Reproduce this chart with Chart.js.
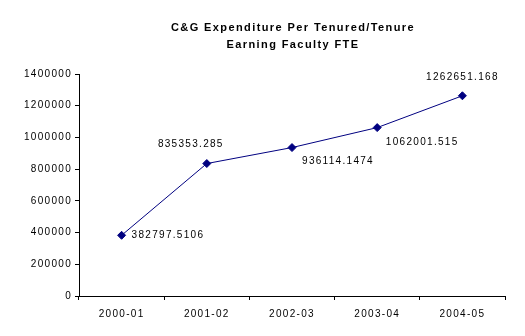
<!DOCTYPE html>
<html>
<head>
<meta charset="utf-8">
<script src="https://cdn.jsdelivr.net/npm/chart.js@4.4.1/dist/chart.umd.min.js"></script>
<style>
  html, body { margin: 0; padding: 0; background: #fff; }
  #wrap { width: 525px; height: 336px; position: relative; }
</style>
</head>
<body>
<div id="wrap"><canvas id="c" width="525" height="336"></canvas></div>
<script>
// Fiscal years and the C&G spend per tenured/tenure-earning FTE
const years = ['2000-01', '2001-02', '2002-03', '2003-04', '2004-05'];
const expenditure = [382797.5106, 835353.285, 936114.1474, 1062001.515, 1262651.168];
const valueLabels = ['382797.5106', '835353.285', '936114.1474', '1062001.515', '1262651.168'];
const titleLines = ['C&G Expenditure Per Tenured/Tenure', 'Earning Faculty FTE'];

const FONT = '"Liberation Sans", Arial, sans-serif';
const NAVY = '#000080';
const SPACING = '1.3px';

// Where each value label sits relative to its marker
const labelPlacement = [
  { dx: 10, dy: 0, align: 'left' },
  { dx: -16, dy: -19, align: 'center' },
  { dx: 46, dy: 14, align: 'center' },
  { dx: 45, dy: 15, align: 'center' },
  { dx: 0, dy: -19, align: 'center' }
];

// Wide, loosely tracked text throughout
const spacingPlugin = {
  id: 'letterSpacing',
  beforeLayout(chart) { chart.ctx.letterSpacing = SPACING; },
  beforeDraw(chart) { chart.ctx.letterSpacing = SPACING; }
};

const titlePlugin = {
  id: 'twoLineTitle',
  afterDraw(chart) {
    const ctx = chart.ctx;
    const ca = chart.chartArea;
    const cx = (ca.left + ca.right) / 2 + 1;
    ctx.save();
    ctx.letterSpacing = '1.4px';
    ctx.fillStyle = '#000';
    ctx.font = 'bold 11px ' + FONT;
    ctx.textAlign = 'center';
    ctx.textBaseline = 'middle';
    ctx.fillText(titleLines[0], cx, 28);
    ctx.fillText(titleLines[1], cx, 45);
    ctx.restore();
  }
};

const valueLabelPlugin = {
  id: 'valueLabels',
  afterDatasetsDraw(chart) {
    const ctx = chart.ctx;
    const meta = chart.getDatasetMeta(0);
    ctx.save();
    ctx.letterSpacing = SPACING;
    ctx.fillStyle = '#000';
    ctx.font = '10px ' + FONT;
    ctx.textBaseline = 'middle';
    meta.data.forEach((pt, i) => {
      const p = labelPlacement[i];
      ctx.textAlign = p.align;
      ctx.fillText(valueLabels[i], pt.x + p.dx, pt.y + p.dy);
    });
    ctx.restore();
  }
};

new Chart(document.getElementById('c'), {
  type: 'line',
  data: {
    labels: years,
    datasets: [{
      data: expenditure,
      borderColor: NAVY,
      borderWidth: 1,
      backgroundColor: NAVY,
      pointStyle: 'rectRot',
      pointRadius: 4,
      pointBorderWidth: 1,
      pointBorderColor: NAVY,
      pointBackgroundColor: NAVY,
      tension: 0,
      fill: false
    }]
  },
  options: {
    responsive: false,
    animation: false,
    events: [],
    layout: { padding: { top: 74, right: 20, left: 0, bottom: 0 } },
    plugins: {
      legend: { display: false },
      tooltip: { enabled: false },
      title: { display: false }
    },
    scales: {
      x: {
        type: 'category',
        offset: true,
        grid: {
          offset: true,
          drawOnChartArea: false,
          drawTicks: true,
          tickLength: 4,
          color: '#000'
        },
        border: { display: true, color: '#000', width: 1 },
        ticks: {
          color: '#000',
          font: { family: FONT, size: 10 },
          padding: 8,
          maxRotation: 0
        },
        afterFit(scale) { scale.height = 40; }
      },
      y: {
        min: 0,
        max: 1400000,
        grid: {
          drawOnChartArea: false,
          drawTicks: true,
          tickLength: 4,
          color: '#000'
        },
        border: { display: true, color: '#000', width: 1 },
        ticks: {
          stepSize: 200000,
          color: '#000',
          font: { family: FONT, size: 10 },
          padding: 3,
          callback: (v) => String(v)
        },
        afterFit(scale) { scale.width = 79; }
      }
    }
  },
  plugins: [spacingPlugin, titlePlugin, valueLabelPlugin]
});
</script>
</body>
</html>
